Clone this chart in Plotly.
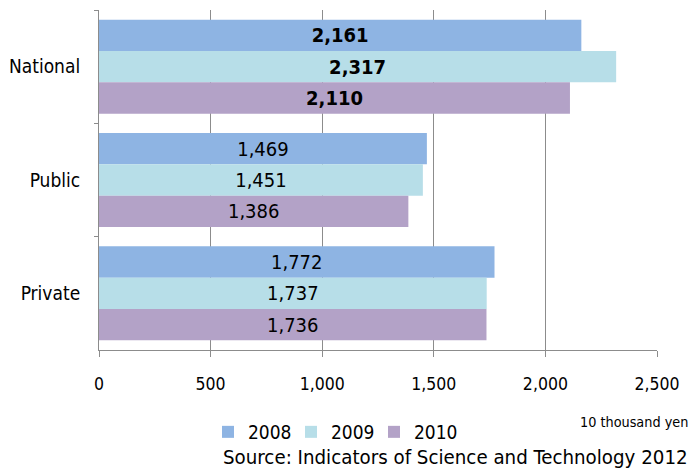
import plotly.graph_objects as go

categories = ["National", "Public", "Private"]
years = ["2008", "2009", "2010"]
values_2008 = [2161, 1469, 1772]
values_2009 = [2317, 1451, 1737]
values_2010 = [2110, 1386, 1736]
colors = ["#8EB4E3", "#B7DEE8", "#B3A2C7"]
x_ticks = [0, 500, 1000, 1500, 2000, 2500]
x_tick_labels = ["0", "500", "1,000", "1,500", "2,000", "2,500"]

FONT = "DejaVu Sans Condensed, DejaVu Sans"

fig = go.Figure()
for name, vals, col in zip(years, [values_2008, values_2009, values_2010], colors):
    texts = []
    for c, v in zip(categories, vals):
        s = f"{v:,}"
        texts.append(f"<b>{s}</b>" if c == "National" else s)
    fig.add_trace(go.Bar(
        y=categories, x=vals, name=name, orientation="h",
        marker=dict(color=col, line=dict(width=0)),
        text=texts, textposition="inside", insidetextanchor="middle",
        textfont=dict(family=FONT, size=20, color="black"),
        constraintext="none",
    ))

fig.update_layout(
    width=690, height=469,
    margin=dict(l=99, r=33, t=10, b=119),
    paper_bgcolor="white", plot_bgcolor="white",
    barmode="group", bargap=0.17, bargroupgap=0,
    font=dict(family=FONT, size=18, color="black"),
    showlegend=True,
    legend=dict(orientation="h", x=(208 - 99) / 558, xanchor="left", y=(350 - 432) / 340, yanchor="middle",
                font=dict(family=FONT, size=19), itemwidth=30, traceorder="normal",
                entrywidth=38, entrywidthmode="pixels"),
    xaxis=dict(range=[0, 2500], tickvals=x_ticks, ticktext=x_tick_labels,
               showgrid=True, gridcolor="#8C8C8C", gridwidth=1,
               showline=True, linecolor="#8C8C8C", linewidth=1,
               ticks="outside", ticklen=6, tickcolor="#8C8C8C",
               ticklabelstandoff=12, zeroline=False,
               tickfont=dict(family=FONT, size=17.5)),
    yaxis=dict(autorange="reversed", showgrid=False,
               showline=True, linecolor="#8C8C8C", linewidth=1,
               ticks="outside", ticklen=4, tickcolor="#8C8C8C",
               tickson="boundaries", ticklabelstandoff=14,
               tickfont=dict(family=FONT, size=19)),
    annotations=[
        dict(text="10 thousand yen", xref="paper", yref="paper",
             x=(690 - 99) / 558, y=(350 - 422) / 340, xanchor="right", yanchor="middle",
             showarrow=False, font=dict(family=FONT, size=14.3)),
        dict(text="Source: Indicators of Science and Technology 2012", xref="paper", yref="paper",
             x=(690 - 99) / 558, y=(350 - 457) / 340, xanchor="right", yanchor="middle",
             showarrow=False, font=dict(family=FONT, size=20.3)),
    ],
)

fig.write_html("out.html", post_script="document.body.style.margin='0';",
               config={"displayModeBar": False})
